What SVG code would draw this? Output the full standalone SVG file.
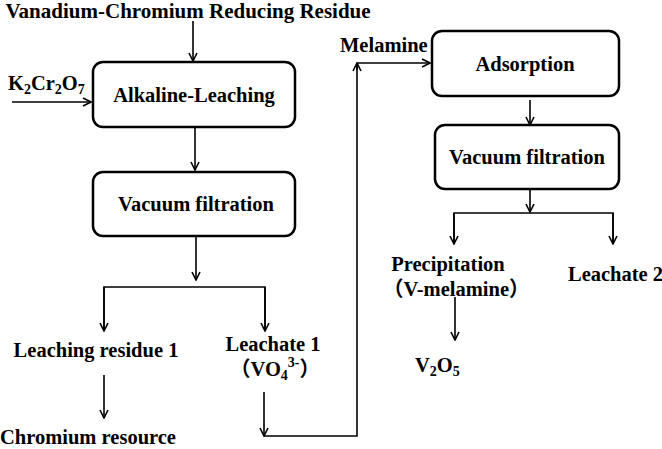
<svg xmlns="http://www.w3.org/2000/svg" width="662" height="449" viewBox="0 0 662 449">
<style>
text{font-family:"Liberation Serif","Times New Roman","Noto Sans CJK SC",serif;font-weight:bold;font-size:20.5px;fill:#000}
.sub{font-size:14px}
.box{fill:#fff;stroke:#000;stroke-width:2.5}
.ln{fill:none;stroke:#000;stroke-width:1.6}
.c{text-anchor:middle}
</style>
<defs>
<marker id="ah" viewBox="0 0 10 10" refX="9" refY="5" markerWidth="10" markerHeight="10" markerUnits="userSpaceOnUse" orient="auto">
<path d="M1,1 L9,5 L1,9" fill="none" stroke="#000" stroke-width="1.6"/>
</marker>
</defs>
<g id="connectors">
<line class="ln" x1="193" y1="21" x2="193" y2="61" marker-end="url(#ah)"/>
<line class="ln" x1="12" y1="102" x2="91" y2="102" marker-end="url(#ah)"/>
<line class="ln" x1="195" y1="127" x2="195" y2="170" marker-end="url(#ah)"/>
<line class="ln" x1="196" y1="237" x2="196" y2="280" marker-end="url(#ah)"/>
<path class="ln" d="M104,331 V287 H265 V331"/>
<line class="ln" x1="104" y1="287" x2="104" y2="331" marker-end="url(#ah)"/>
<line class="ln" x1="265" y1="287" x2="265" y2="331" marker-end="url(#ah)"/>
<line class="ln" x1="104" y1="375" x2="104" y2="418" marker-end="url(#ah)"/>
<line class="ln" x1="264" y1="392" x2="264" y2="436" marker-end="url(#ah)"/>
<path class="ln" d="M264,436 H357 V63"/>
<line class="ln" x1="357" y1="70" x2="357" y2="63" marker-end="url(#ah)"/>
<line class="ln" x1="357" y1="63" x2="430" y2="63" marker-end="url(#ah)"/>
<line class="ln" x1="530" y1="100" x2="530" y2="125" marker-end="url(#ah)"/>
<line class="ln" x1="530" y1="190" x2="530" y2="212" marker-end="url(#ah)"/>
<path class="ln" d="M454,244 V213 H613 V244"/>
<line class="ln" x1="454" y1="213" x2="454" y2="244" marker-end="url(#ah)"/>
<line class="ln" x1="613" y1="213" x2="613" y2="244" marker-end="url(#ah)"/>
<line class="ln" x1="455" y1="297" x2="455" y2="340" marker-end="url(#ah)"/>
</g>
<g id="title"><text class="c" x="188" y="18" style="font-size:21px">Vanadium-Chromium Reducing Residue</text></g>
<g id="k2cr2o7"><text x="8" y="90">K<tspan class="sub" dy="4">2</tspan><tspan dy="-4">Cr</tspan><tspan class="sub" dy="4">2</tspan><tspan dy="-4">O</tspan><tspan class="sub" dy="4">7</tspan></text></g>
<g id="alkaline-leaching"><rect class="box" x="93" y="62" width="202" height="65" rx="10"/><text class="c" x="194" y="102">Alkaline-Leaching</text></g>
<g id="vacuum-filtration-1"><rect class="box" x="93" y="172" width="202" height="64" rx="10"/><text class="c" x="196" y="211">Vacuum filtration</text></g>
<g id="leaching-residue-1"><text class="c" x="96" y="357">Leaching residue 1</text></g>
<g id="chromium-resource"><text class="c" x="88" y="444">Chromium resource</text></g>
<g id="leachate-1"><text class="c" x="273" y="351">Leachate 1</text><text x="230" y="376">（VO<tspan class="sub" dy="4">4</tspan><tspan class="sub" dy="-13">3-</tspan><tspan dy="9">）</tspan></text></g>
<g id="melamine"><text x="340" y="52">Melamine</text></g>
<g id="adsorption"><rect class="box" x="432" y="31" width="187" height="65" rx="10"/><text class="c" x="525" y="71">Adsorption</text></g>
<g id="vacuum-filtration-2"><rect class="box" x="435" y="125" width="184" height="64" rx="10"/><text class="c" x="527" y="164">Vacuum filtration</text></g>
<g id="precipitation"><text class="c" x="448" y="271">Precipitation</text><text x="383" y="296">（V-melamine）</text></g>
<g id="leachate-2"><text x="568" y="281">Leachate 2</text></g>
<g id="v2o5"><text x="415" y="372">V<tspan class="sub" dy="4">2</tspan><tspan dy="-4">O</tspan><tspan class="sub" dy="4">5</tspan></text></g>
</svg>
